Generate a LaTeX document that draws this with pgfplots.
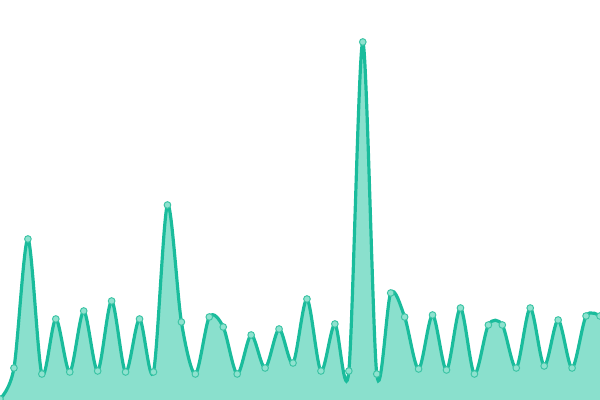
\documentclass[border=0pt]{standalone}
\usepackage{pgfplots}
\pgfplotsset{compat=1.18}
\definecolor{linec}{HTML}{1ABC9C}
\definecolor{fillc}{HTML}{8AE0CD}
\definecolor{markc}{HTML}{8FE2CF}
\definecolor{markd}{HTML}{3CC4A5}
\begin{document}
\begin{tikzpicture}
\begin{axis}[
  hide axis,
  scale only axis,
  width=6in, height=4in,
  xmin=0, xmax=43, ymin=0, ymax=400,
  clip=true,
]
\pgfplotstableread{
x y
0 1
1 32
2 161
3 26
4 81
5 28
6 89
7 29
8 99
9 28
10 81
11 28
12 195
13 78
14 26
15 83
16 73
17 26
18 65
19 32
20 71
21 37
22 101
23 29
24 76
25 29
26 358
27 26
28 107
29 83
30 31
31 85
32 30
33 92
34 26
35 75
36 75
37 32
38 92
39 34
40 80
41 32
42 84
43 84
}\datatable
\addplot[draw=none, fill=fillc, smooth, tension=0.5] table {\datatable} \closedcycle;
\addplot[color=linec, line width=2.3pt, smooth, tension=0.5,
  mark=*, mark size=2.4pt,
  mark options={fill=markc, draw=markd, line width=0.7pt}] table {\datatable};
\end{axis}
\pgfresetboundingbox
\useasboundingbox (current axis.south west) rectangle (current axis.north east);
\end{tikzpicture}
\end{document}
